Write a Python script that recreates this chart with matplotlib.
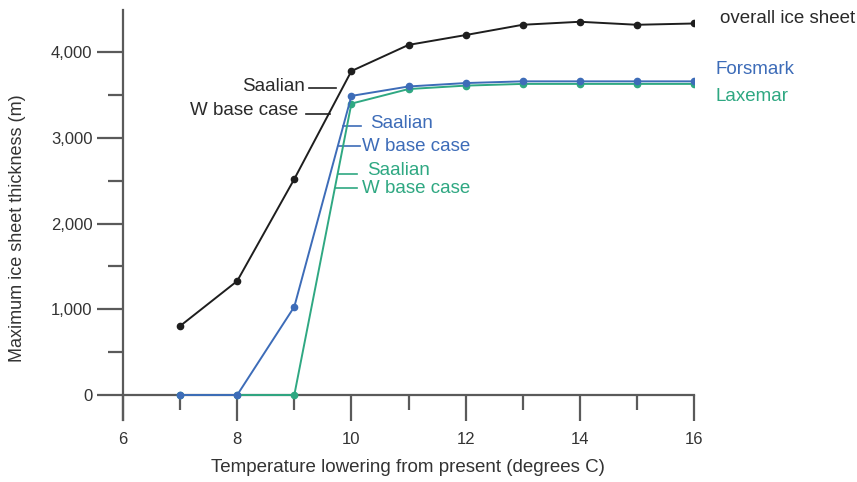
import matplotlib
matplotlib.use("Agg")
import matplotlib.pyplot as plt
from matplotlib.ticker import MultipleLocator, FuncFormatter

plt.rcParams['font.family'] = ['Liberation Sans', 'DejaVu Sans']

temps = [7, 8, 9, 10, 11, 12, 13, 14, 15, 16]
overall = [805, 1330, 2520, 3780, 4085, 4200, 4320, 4355, 4320, 4335]
forsmark = [0, 0, 1030, 3490, 3600, 3640, 3660, 3660, 3660, 3660]
laxemar = [0, 0, 0, 3400, 3570, 3610, 3630, 3630, 3630, 3630]

xticks = [6, 8, 10, 12, 14, 16]
yticks = [0, 1000, 2000, 3000, 4000]

W, H = 857, 482
fig = plt.figure(figsize=(W / 100, H / 100), dpi=100)
L, R, T, B = 123, 694, 10, 420
ax = fig.add_axes([L / W, (H - B) / H, (R - L) / W, (B - T) / H])

pxy = 85.7 / 1000.0
ax.set_xlim(6, 16)
ax.set_ylim(-(B - 395) / pxy, (395 - T) / pxy)

black = '#1e1e1e'
blue = '#3d6cb8'
green = '#2fa882'

ax.plot(temps, laxemar, color=green, lw=1.4, marker='o', ms=4.5, zorder=3)
ax.plot(temps, forsmark, color=blue, lw=1.4, marker='o', ms=4.5, zorder=4)
ax.plot(temps, overall, color=black, lw=1.4, marker='o', ms=4.5, zorder=5)

gray = '#5a5a5a'
for s in ['top', 'right']:
    ax.spines[s].set_visible(False)
ax.spines['bottom'].set_position(('data', 0))
for s in ['left', 'bottom']:
    ax.spines[s].set_color(gray)
    ax.spines[s].set_linewidth(1.6)

ax.set_xticks(xticks)
ax.set_yticks(yticks)
ax.xaxis.set_minor_locator(MultipleLocator(1))
ax.yaxis.set_minor_locator(MultipleLocator(500))
ax.yaxis.set_major_formatter(FuncFormatter(lambda v, p: f"{int(v):,}"))
ax.tick_params(axis='both', which='major', length=19, width=1.6, color=gray,
               labelsize=12, labelcolor='#333333')
ax.tick_params(axis='both', which='minor', length=11, width=1.6, color=gray)
ax.tick_params(axis='x', which='major', pad=8)
ax.tick_params(axis='y', which='major', pad=3)

def dx(px):
    return 6 + (px - L) / 57.1

def dy(py):
    return (395 - py) / pxy

fs = 13.5
tc = '#2a2a2a'
# black annotations
ax.text(dx(305), dy(86), 'Saalian', color=tc, fontsize=fs, ha='right', va='center')
ax.plot([dx(309), dx(336)], [dy(88), dy(88)], color='#222222', lw=1.2)
ax.text(dx(298), dy(110), 'W base case', color=tc, fontsize=fs, ha='right', va='center')
ax.plot([dx(306), dx(330)], [dy(114), dy(114)], color='#222222', lw=1.2)
# blue annotations
ax.text(dx(370), dy(123), 'Saalian', color=blue, fontsize=fs, ha='left', va='center')
ax.plot([dx(343), dx(361)], [dy(126), dy(126)], color=blue, lw=1.2)
ax.text(dx(362), dy(146), 'W base case', color=blue, fontsize=fs, ha='left', va='center')
ax.plot([dx(339), dx(360)], [dy(146), dy(146)], color=blue, lw=1.2)
# green annotations
ax.text(dx(367), dy(170), 'Saalian', color=green, fontsize=fs, ha='left', va='center')
ax.plot([dx(338), dx(357)], [dy(174), dy(174)], color=green, lw=1.2)
ax.text(dx(362), dy(188), 'W base case', color=green, fontsize=fs, ha='left', va='center')
ax.plot([dx(335), dx(357)], [dy(188), dy(188)], color=green, lw=1.2)

# series labels
ax.text(dx(720), dy(18), 'overall ice sheet', color=tc, fontsize=fs, ha='left', va='center', clip_on=False)
ax.text(dx(715), dy(69), 'Forsmark', color=blue, fontsize=fs, ha='left', va='center', clip_on=False)
ax.text(dx(715), dy(96), 'Laxemar', color=green, fontsize=fs, ha='left', va='center', clip_on=False)

fig.text(408 / W, 1 - 467 / H, 'Temperature lowering from present (degrees C)',
         ha='center', va='center', fontsize=13.5, color='#333333')
fig.text(18 / W, 1 - 228 / H, 'Maximum ice sheet thickness (m)', rotation=90,
         ha='center', va='center', fontsize=13, color='#333333')

fig.savefig('out.png', dpi=100)
